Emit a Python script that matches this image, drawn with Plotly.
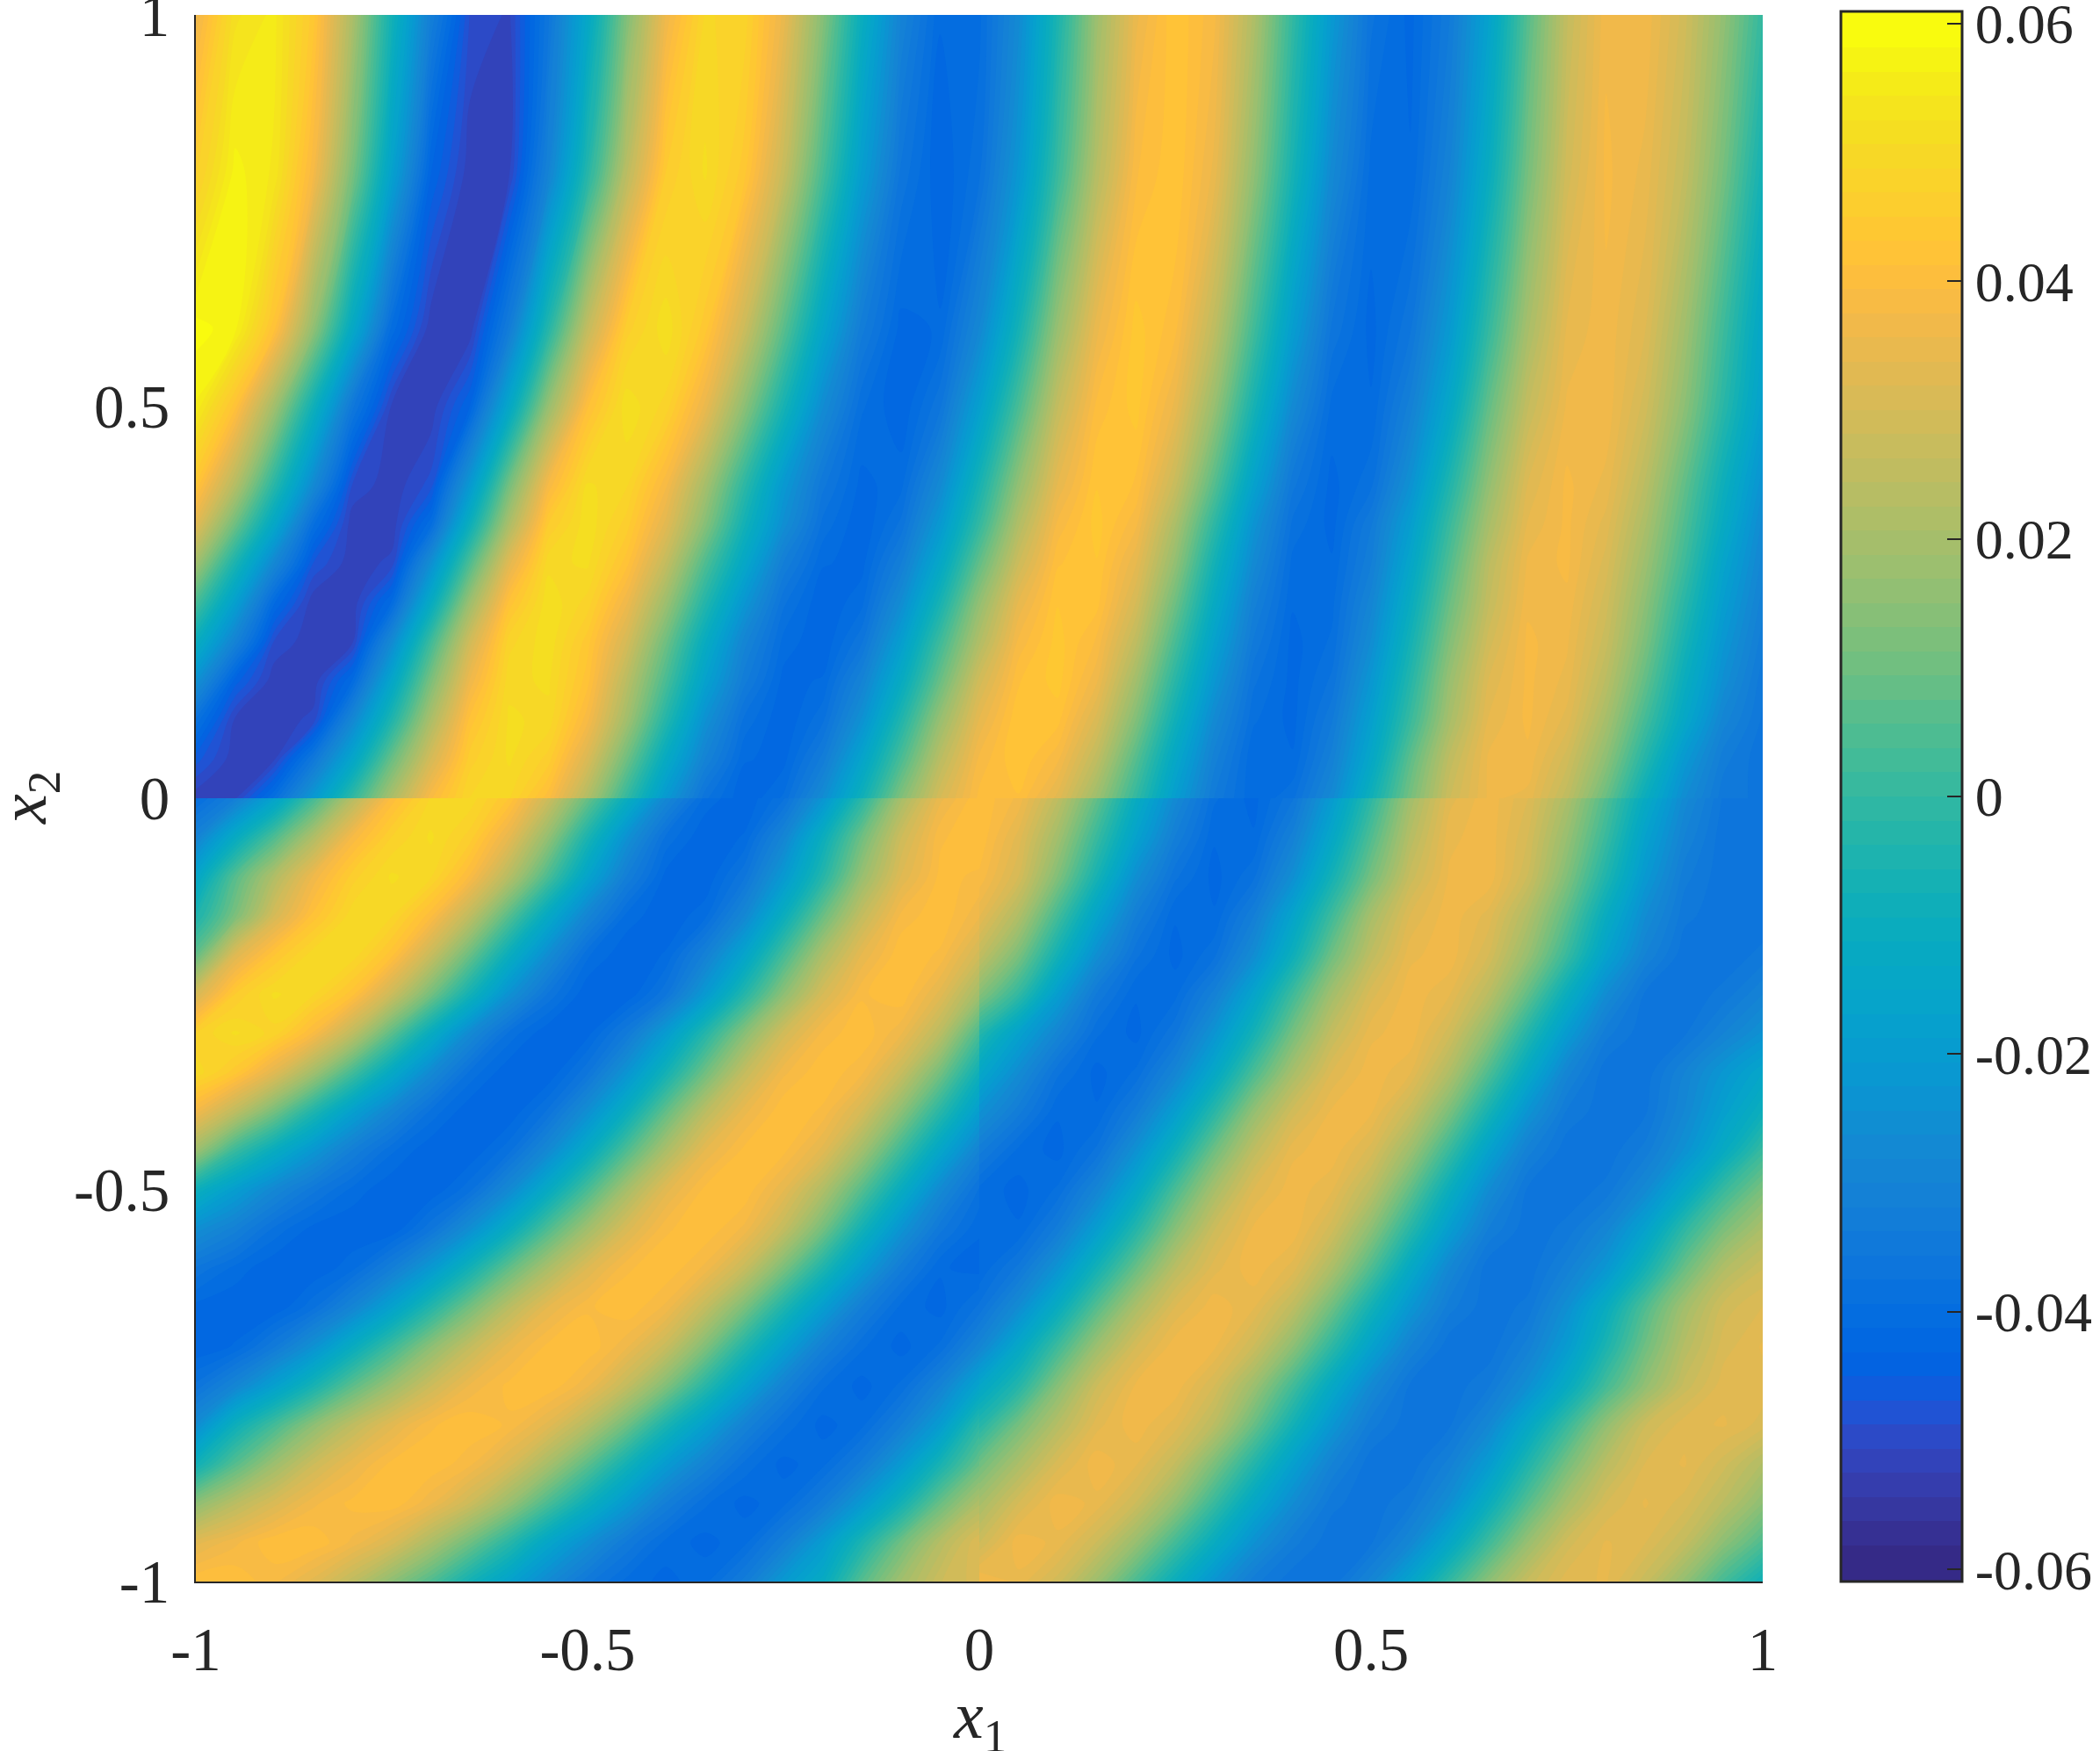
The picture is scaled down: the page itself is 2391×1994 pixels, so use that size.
import plotly.graph_objects as go

# Field, in thousandths; upper half plane and the two lower quadrants
x_full = [round(-1 + 0.05 * i, 2) for i in range(41)]
x_left = [round(-1 + 0.05 * i, 2) for i in range(21)]
x_right = [round(0.05 * i, 2) for i in range(21)]
y_top = [0, 0.05, 0.1, 0.15, 0.2, 0.25, 0.3, 0.35, 0.4, 0.5, 0.6, 0.8, 1]
y_low = [round(-1 + 0.05 * i, 2) for i in range(21)]

z_top = [
 [-52,-51,-39,-21,0,21,39,49,49,40,22,0,-21,-37,-43,-39,-26,-8,13,30,40,41,33,18,0,-19,-34,-41,-38,-27,-8,11,28,36,35,25,9,-10,-26,-35,-36],
 [-46,-52,-51,-35,-15,9,30,46,51,46,31,10,-12,-30,-41,-42,-33,-16,4,24,38,43,38,25,6,-14,-31,-41,-41,-31,-14,7,25,36,37,29,15,-3,-21,-33,-37],
 [-38,-51,-52,-50,-28,-4,21,42,51,50,38,19,-3,-24,-38,-43,-38,-24,-4,17,34,43,42,31,13,-8,-27,-39,-42,-34,-18,1,20,34,38,33,20,3,-14,-29,-36],
 [-24,-44,-52,-52,-41,-15,12,36,50,51,42,24,4,-17,-33,-42,-41,-30,-12,9,29,41,44,36,19,-2,-22,-37,-42,-37,-22,-3,17,32,38,35,24,8,-10,-25,-35],
 [-10,-30,-49,-52,-51,-27,2,29,48,52,44,30,10,-11,-29,-40,-43,-36,-19,2,22,38,44,39,25,4,-17,-34,-42,-39,-26,-7,13,29,38,36,27,12,-6,-22,-33],
 [4,-18,-41,-52,-52,-41,-12,18,42,52,48,36,18,-3,-22,-37,-43,-40,-26,-6,16,34,43,42,30,10,-12,-31,-41,-40,-29,-11,9,26,37,37,29,15,-2,-19,-31],
 [19,-5,-28,-47,-52,-50,-25,5,33,50,51,42,26,5,-14,-32,-41,-42,-32,-14,8,28,41,43,34,16,-7,-27,-40,-41,-32,-15,5,24,36,38,31,18,2,-16,-29],
 [33,10,-14,-39,-52,-52,-40,-9,21,45,52,46,33,14,-7,-25,-38,-43,-37,-21,0,22,38,44,38,21,-1,-23,-38,-42,-34,-19,1,20,34,38,33,21,5,-12,-27],
 [43,23,-2,-27,-49,-52,-48,-21,11,38,51,49,38,20,-1,-21,-35,-42,-40,-27,-6,16,34,43,41,27,6,-17,-35,-42,-38,-24,-4,16,32,38,35,24,8,-9,-24],
 [56,42,19,-8,-35,-51,-52,-43,-14,17,41,52,48,35,15,-6,-26,-39,-43,-36,-18,4,26,40,44,35,17,-6,-27,-40,-41,-31,-14,8,26,36,37,29,15,-2,-18],
 [59,57,42,16,-13,-40,-52,-52,-33,-3,26,46,52,44,28,7,-15,-33,-42,-41,-28,-7,17,35,44,40,25,3,-19,-36,-42,-36,-21,0,20,34,37,32,19,2,-15],
 [46,57,54,38,12,-17,-43,-52,-51,-30,-3,24,45,51,44,27,4,-19,-36,-43,-38,-22,1,23,39,43,35,16,-6,-27,-40,-41,-30,-11,11,29,38,35,26,11,-7],
 [36,52,55,44,21,-7,-32,-49,-51,-36,-14,13,36,49,48,35,14,-10,-30,-41,-40,-27,-5,18,35,43,38,22,0,-21,-37,-42,-34,-17,6,26,37,37,29,16,0],
]
z_left = [
 [41,41,38,33,25,15,5,-7,-17,-27,-35,-40,-42,-40,-33,-21,-12,6,19,28,31],
 [33,37,41,41,37,31,21,10,-2,-15,-25,-34,-40,-42,-40,-32,-20,-5,10,23,32],
 [15,24,31,37,40,41,36,28,17,4,-9,-21,-32,-39,-42,-40,-33,-21,-7,9,22],
 [-8,6,18,28,35,40,41,38,31,20,7,-7,-20,-30,-38,-42,-40,-33,-21,-6,9],
 [-26,-9,3,15,25,33,39,41,39,33,23,10,-5,-18,-30,-38,-42,-40,-32,-20,-1],
 [-37,-29,-18,-6,7,18,28,36,40,41,36,26,13,-2,-17,-30,-39,-42,-39,-30,-16],
 [-43,-41,-34,-24,-11,2,15,26,35,40,41,36,27,13,-3,-18,-31,-39,-42,-39,-29],
 [-42,-43,-43,-38,-29,-17,-3,11,24,34,39,41,37,26,12,-4,-19,-32,-40,-42,-37],
 [-36,-40,-43,-43,-40,-32,-21,-7,8,21,32,39,41,37,27,12,-4,-20,-33,-41,-42],
 [-25,-31,-38,-42,-43,-43,-36,-25,-11,5,19,31,39,41,37,26,11,-7,-23,-35,-41],
 [-9,-19,-28,-35,-40,-43,-43,-38,-27,-12,4,20,33,40,41,34,22,6,-11,-27,-38],
 [18,1,-11,-22,-32,-39,-43,-43,-38,-27,-12,5,21,34,40,40,33,19,2,-15,-30],
 [37,25,11,-4,-18,-29,-38,-43,-43,-37,-25,-10,8,24,35,41,39,30,15,-2,-19],
 [50,44,33,19,3,-13,-27,-38,-43,-43,-36,-23,-7,10,26,37,41,38,27,11,-8],
 [47,51,48,39,25,7,-11,-27,-38,-43,-42,-34,-20,-3,14,29,38,41,36,24,4],
 [30,45,51,49,42,28,11,-7,-24,-36,-43,-43,-36,-21,-3,15,30,39,41,33,19],
 [8,32,43,50,50,42,27,9,-10,-26,-39,-43,-41,-31,-16,3,21,34,41,39,29],
 [-5,12,30,42,50,49,40,25,6,-13,-29,-40,-43,-40,-28,-10,9,26,38,41,36],
 [-15,6,22,36,46,51,49,39,23,4,-16,-32,-42,-43,-36,-21,-3,17,32,40,39],
 [-30,-12,5,22,38,47,51,46,34,16,-5,-24,-38,-43,-41,-29,-10,10,28,39,41],
 [-40,-32,-17,3,23,40,49,50,43,28,9,-10,-28,-40,-43,-38,-23,-2,20,35,41],
]
z_right = [
 [38,35,29,18,4,-10,-23,-33,-37,-37,-29,-16,0,15,27,33,34,27,16,3,-8],
 [28,37,35,28,17,3,-11,-24,-33,-37,-36,-28,-14,2,17,29,34,32,26,15,5],
 [20,30,37,35,28,16,1,-14,-26,-35,-37,-34,-25,-10,6,20,30,34,31,24,15],
 [10,21,31,37,34,26,12,-3,-18,-30,-37,-37,-31,-20,-4,11,24,32,34,29,22],
 [-3,11,23,33,37,33,24,9,-7,-22,-33,-37,-36,-28,-14,1,16,28,33,34,31],
 [-15,-3,14,28,36,37,30,18,3,-13,-27,-36,-37,-34,-25,-12,3,16,27,33,33],
 [-29,-14,2,18,30,37,36,28,15,-1,-17,-30,-37,-37,-31,-20,-5,10,23,31,34],
 [-37,-26,-11,6,21,32,37,34,25,10,-7,-22,-33,-37,-35,-25,-11,5,19,29,32],
 [-41,-35,-23,-7,9,24,33,37,33,21,5,-13,-28,-37,-37,-31,-22,-7,9,22,28],
 [-41,-41,-33,-19,-3,14,28,36,37,29,15,-2,-19,-32,-37,-35,-29,-17,-1,12,21],
 [-40,-42,-39,-29,-14,4,20,32,37,34,24,8,-10,-26,-36,-37,-35,-27,-14,1,12],
 [-33,-40,-42,-37,-24,-8,10,25,35,37,31,18,1,-17,-31,-37,-37,-33,-24,-12,1],
 [-24,-33,-41,-41,-33,-19,-2,16,29,36,36,27,12,-6,-23,-34,-37,-36,-28,-18,-9],
 [-14,-26,-37,-42,-39,-29,-14,4,20,32,37,34,22,5,-13,-29,-37,-37,-30,-22,-15],
 [-3,-17,-29,-39,-42,-36,-23,-7,11,26,35,37,29,15,-3,-20,-33,-37,-36,-30,-24],
 [14,0,-19,-34,-41,-40,-31,-16,2,19,31,37,34,24,8,-10,-26,-36,-37,-35,-30],
 [26,12,-7,-25,-37,-42,-38,-26,-9,10,25,35,37,30,17,1,-17,-30,-37,-37,-35],
 [34,22,3,-16,-32,-41,-41,-32,-16,2,20,32,37,33,22,7,-11,-26,-35,-37,-37],
 [39,30,13,-6,-25,-37,-42,-38,-25,-7,11,27,36,37,28,13,-4,-21,-33,-37,-37],
 [41,33,19,1,-17,-32,-41,-41,-31,-14,5,23,35,37,30,17,1,-17,-30,-37,-37],
 [41,37,25,8,-11,-27,-39,-42,-36,-20,-1,19,33,37,32,21,5,-12,-27,-36,-36],
]

parula = [
 (0.2081,0.1663,0.5292),(0.2116,0.1898,0.5777),(0.2123,0.2138,0.6270),(0.2081,0.2386,0.6771),
 (0.1959,0.2645,0.7279),(0.1707,0.2919,0.7792),(0.1253,0.3242,0.8303),(0.0591,0.3598,0.8683),
 (0.0117,0.3875,0.8820),(0.0060,0.4086,0.8828),(0.0165,0.4266,0.8786),(0.0329,0.4430,0.8720),
 (0.0498,0.4586,0.8641),(0.0629,0.4737,0.8554),(0.0723,0.4887,0.8467),(0.0779,0.5040,0.8384),
 (0.0793,0.5200,0.8312),(0.0749,0.5375,0.8263),(0.0641,0.5570,0.8240),(0.0488,0.5772,0.8228),
 (0.0343,0.5966,0.8199),(0.0265,0.6137,0.8135),(0.0239,0.6287,0.8038),(0.0231,0.6418,0.7913),
 (0.0228,0.6535,0.7768),(0.0267,0.6642,0.7607),(0.0384,0.6743,0.7436),(0.0590,0.6838,0.7254),
 (0.0843,0.6928,0.7062),(0.1133,0.7015,0.6859),(0.1453,0.7098,0.6646),(0.1801,0.7177,0.6424),
 (0.2178,0.7250,0.6193),(0.2586,0.7317,0.5954),(0.3022,0.7376,0.5712),(0.3482,0.7424,0.5473),
 (0.3953,0.7459,0.5244),(0.4420,0.7481,0.5033),(0.4871,0.7491,0.4840),(0.5300,0.7491,0.4661),
 (0.5709,0.7485,0.4494),(0.6099,0.7473,0.4337),(0.6473,0.7456,0.4188),(0.6834,0.7435,0.4044),
 (0.7184,0.7411,0.3905),(0.7525,0.7384,0.3768),(0.7858,0.7356,0.3633),(0.8185,0.7327,0.3498),
 (0.8507,0.7299,0.3360),(0.8824,0.7274,0.3217),(0.9139,0.7258,0.3063),(0.9450,0.7261,0.2886),
 (0.9739,0.7314,0.2666),(0.9938,0.7455,0.2403),(0.9990,0.7653,0.2164),(0.9955,0.7861,0.1967),
 (0.9880,0.8066,0.1794),(0.9789,0.8271,0.1633),(0.9697,0.8481,0.1475),(0.9626,0.8705,0.1309),
 (0.9589,0.8949,0.1132),(0.9598,0.9218,0.0948),(0.9661,0.9514,0.0755),(0.9763,0.9831,0.0538),
]
n = len(parula)
scale = []
for i, c in enumerate(parula):
    col = "rgb(%d,%d,%d)" % tuple(round(v * 255) for v in c)
    scale += [[i / n, col], [(i + 1) / n, col]]

axis_ticks = [-1, -0.5, 0, 0.5, 1]
axis_text = ["-1", "-0.5", "0", "0.5", "1"]
bar_ticks = [-0.06, -0.04, -0.02, 0, 0.02, 0.04, 0.06]
bar_text = ["-0.06", "-0.04", "-0.02", "0", "0.02", "0.04", "0.06"]
INK = "#262626"
FONT = "Liberation Serif"
W, H = 2391, 1994

def milli(rows):
    return [[v / 1000 for v in r] for r in rows]

fig = go.Figure()
for xs, ys, zs in [(x_full, y_top, z_top), (x_left, y_low, z_left), (x_right, y_low, z_right)]:
    fig.add_trace(go.Contour(
        x=xs, y=ys, z=milli(zs), coloraxis="coloraxis", autocontour=False,
        contours=dict(start=-0.06, end=0.06, size=0.12 / n, coloring="fill", showlines=False),
        line=dict(width=0), hoverinfo="skip"))

common = dict(range=[-1, 1], tickmode="array", tickvals=axis_ticks, ticktext=axis_text,
              ticks="inside", ticklen=18, tickwidth=2, tickcolor=INK, ticklabeloverflow="allow",
              showgrid=False, zeroline=False, showline=True, linecolor=INK, linewidth=2,
              layer="below traces", tickfont=dict(family=FONT, size=69, color=INK))

title_font = dict(family=FONT, size=76, color=INK)
fig.update_layout(
    width=W, height=H, autosize=False, paper_bgcolor="white", plot_bgcolor="white",
    margin=dict(l=0, r=0, t=0, b=0, autoexpand=False), showlegend=False,
    xaxis=dict(domain=[223 / W, 2007 / W], ticklabelstandoff=16, **common),
    yaxis=dict(domain=[1 - 1801 / H, 1 - 17 / H], ticklabelstandoff=14, **common),
    annotations=[
        dict(text="<i>x</i><sub>1</sub>", xref="paper", yref="paper", x=1115 / W, y=1 - 1959 / H,
             xanchor="center", yanchor="middle", showarrow=False, font=title_font),
        dict(text="<i>x</i><sub>2</sub>", xref="paper", yref="paper", x=32 / W, y=1 - 909 / H,
             xanchor="center", yanchor="middle", textangle=-90, showarrow=False, font=title_font),
    ],
    coloraxis=dict(
        cmin=-0.06, cmax=0.06, colorscale=scale,
        colorbar=dict(
            x=2096 / W, xanchor="left", xpad=0, ypad=0, y=(H - 1801) / H, yanchor="bottom",
            len=(1801 - 13) / H, lenmode="fraction", thickness=138, thicknessmode="pixels",
            outlinecolor=INK, outlinewidth=3, ticklabeloverflow="allow",
            tickmode="array", tickvals=bar_ticks, ticktext=bar_text,
            ticks="inside", ticklen=18, tickwidth=2, tickcolor=INK,
            tickfont=dict(family=FONT, size=64, color=INK))),
)
fig.write_html("out.html", config={"displayModeBar": False},
               post_script="document.body.style.margin='0';")
